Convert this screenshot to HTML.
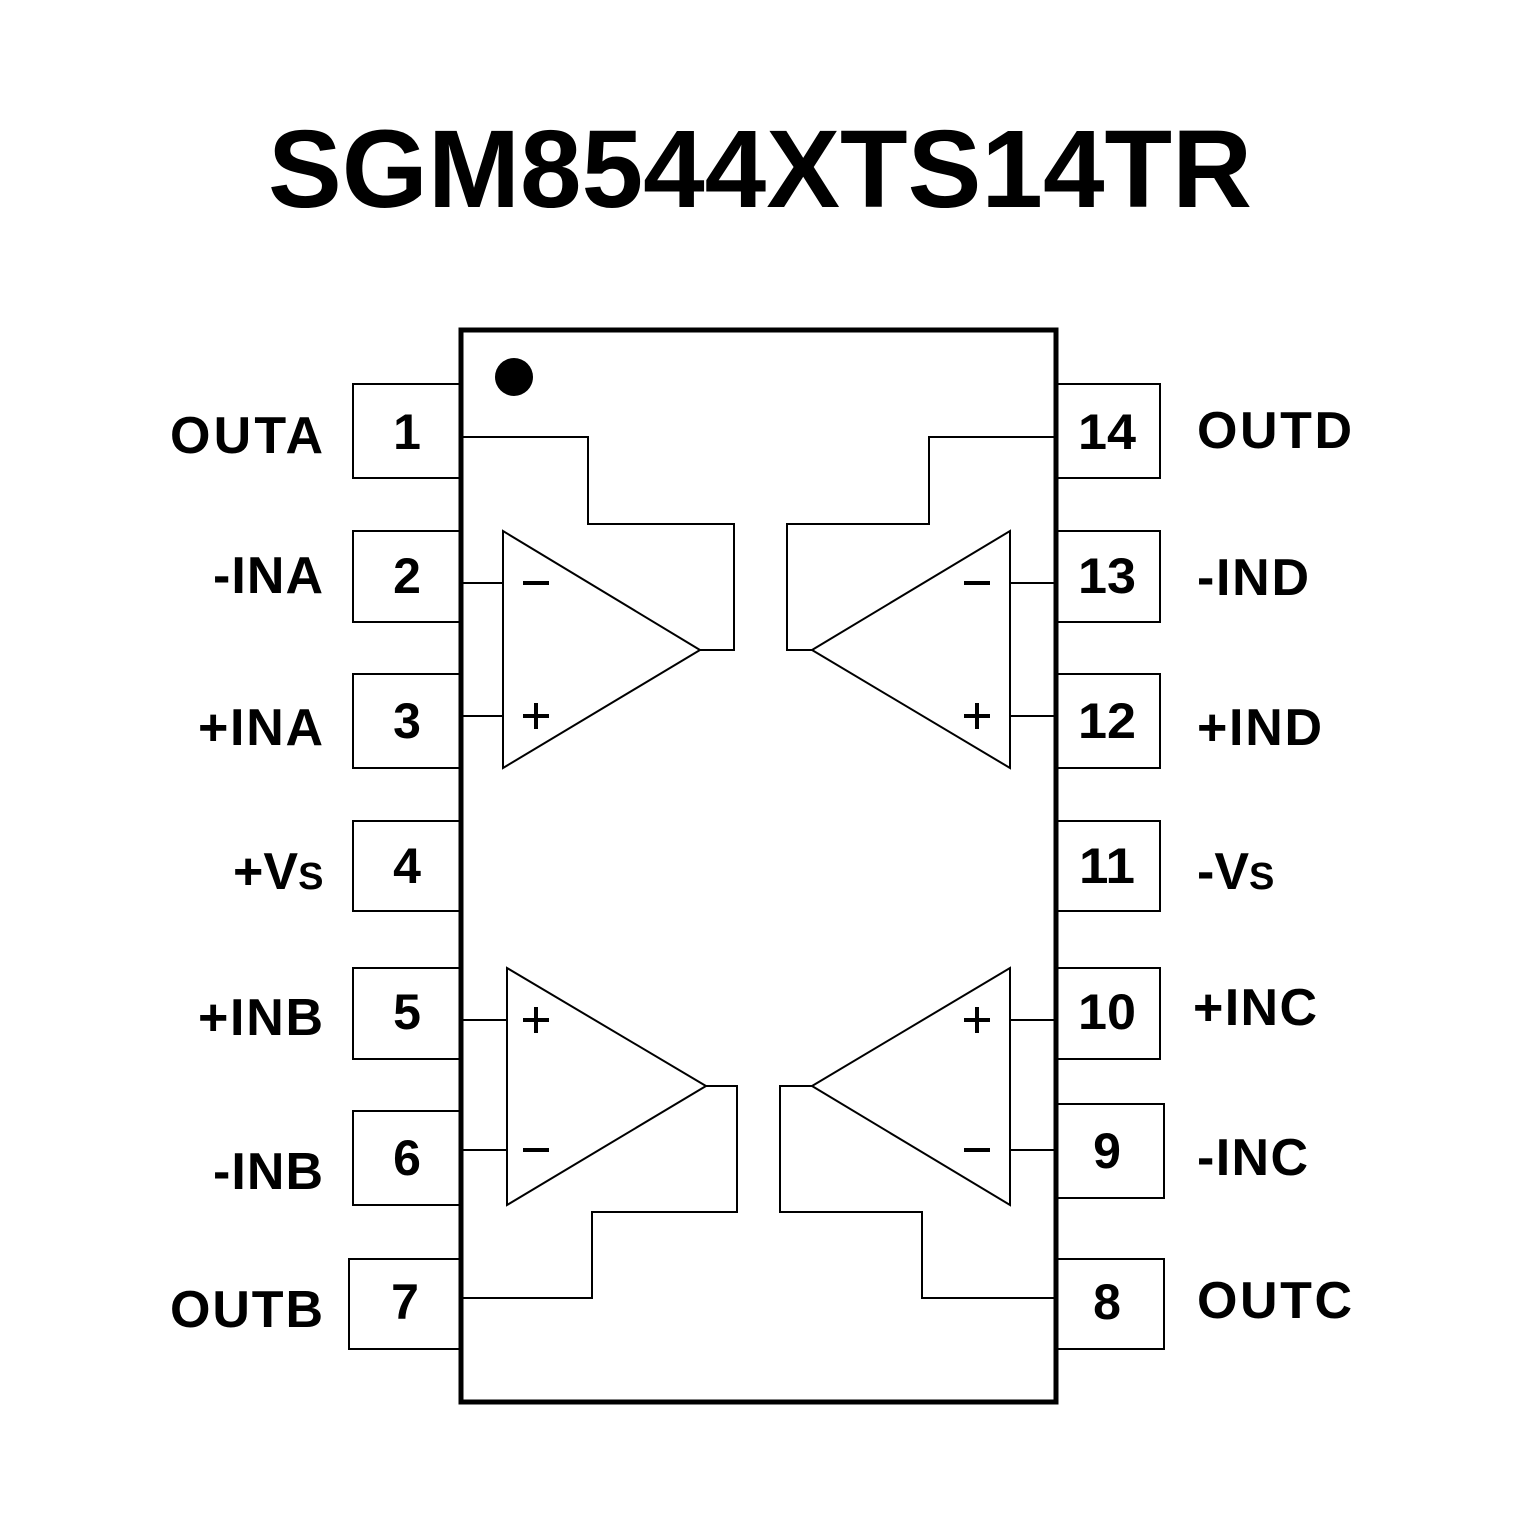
<!DOCTYPE html>
<html><head><meta charset="utf-8"><style>html,body{margin:0;padding:0;background:#fff}</style></head><body>
<svg width="1535" height="1535" viewBox="0 0 1535 1535" xmlns="http://www.w3.org/2000/svg" font-family="Liberation Sans, Arial, sans-serif" font-weight="bold">
<rect width="1535" height="1535" fill="#fff"/>
<text x="760" y="207" font-size="110" text-anchor="middle" textLength="984" lengthAdjust="spacingAndGlyphs">SGM8544XTS14TR</text>
<g fill="#fff" stroke="#000" stroke-width="2">
<rect x="353" y="384" width="108" height="94"/>
<rect x="353" y="531" width="108" height="91"/>
<rect x="353" y="674" width="108" height="94"/>
<rect x="353" y="821" width="108" height="90"/>
<rect x="353" y="968" width="108" height="91"/>
<rect x="353" y="1111" width="108" height="94"/>
<rect x="349" y="1259" width="112" height="90"/>
<rect x="1056" y="384" width="104" height="94"/>
<rect x="1056" y="531" width="104" height="91"/>
<rect x="1056" y="674" width="104" height="94"/>
<rect x="1056" y="821" width="104" height="90"/>
<rect x="1056" y="968" width="104" height="91"/>
<rect x="1056" y="1104" width="108" height="94"/>
<rect x="1056" y="1259" width="108" height="90"/>
</g>
<rect x="461" y="330" width="595" height="1072" fill="#fff" stroke="#000" stroke-width="5"/>
<circle cx="514" cy="377" r="19" fill="#000"/>
<g fill="none" stroke="#000" stroke-width="2">
<polygon points="503,531 503,768 700,650"/>
<polyline points="461,583 503,583"/><polyline points="461,716 503,716"/>
<polyline points="700,650 734,650 734,524 588,524 588,437 461,437"/>
<polygon points="1010,531 1010,768 812,650"/>
<polyline points="1010,583 1056,583"/><polyline points="1010,716 1056,716"/>
<polyline points="812,650 787,650 787,524 929,524 929,437 1056,437"/>
<polygon points="507,968 507,1205 706,1086"/>
<polyline points="461,1020 507,1020"/><polyline points="461,1150 507,1150"/>
<polyline points="706,1086 737,1086 737,1212 592,1212 592,1298 461,1298"/>
<polygon points="1010,968 1010,1205 812,1086"/>
<polyline points="1010,1020 1056,1020"/><polyline points="1010,1150 1056,1150"/>
<polyline points="812,1086 780,1086 780,1212 922,1212 922,1298 1056,1298"/>
</g>
<g stroke="#000" stroke-width="4">
<line x1="523" y1="583" x2="549" y2="583"/><line x1="523" y1="716" x2="549" y2="716"/><line x1="536" y1="703" x2="536" y2="729"/>
<line x1="964" y1="583" x2="990" y2="583"/><line x1="964" y1="716" x2="990" y2="716"/><line x1="977" y1="703" x2="977" y2="729"/>
<line x1="523" y1="1020" x2="549" y2="1020"/><line x1="536" y1="1007" x2="536" y2="1033"/><line x1="523" y1="1150" x2="549" y2="1150"/>
<line x1="964" y1="1020" x2="990" y2="1020"/><line x1="977" y1="1007" x2="977" y2="1033"/><line x1="964" y1="1150" x2="990" y2="1150"/>
</g>
<g font-size="50" text-anchor="middle">
<text x="407" y="449">1</text><text x="407" y="593">2</text><text x="407" y="738">3</text>
<text x="407" y="883">4</text><text x="407" y="1029">5</text><text x="407" y="1175">6</text>
<text x="405" y="1319">7</text>
<text x="1107" y="449" textLength="58" lengthAdjust="spacingAndGlyphs">14</text><text x="1107" y="593" textLength="58" lengthAdjust="spacingAndGlyphs">13</text><text x="1107" y="738" textLength="58" lengthAdjust="spacingAndGlyphs">12</text>
<text x="1107" y="883" textLength="56" lengthAdjust="spacingAndGlyphs">11</text><text x="1107" y="1029" textLength="58" lengthAdjust="spacingAndGlyphs">10</text><text x="1107" y="1168">9</text>
<text x="1107" y="1319">8</text>
</g>
<g font-size="52" lengthAdjust="spacingAndGlyphs">
<text x="170" y="453" textLength="153">OUTA</text><text x="213" y="593" textLength="110">-INA</text><text x="198" y="745" textLength="125">+INA</text>
<text x="233" y="889">+V<tspan font-size="38">S</tspan></text>
<text x="198" y="1035" textLength="125">+INB</text><text x="213" y="1189" textLength="110">-INB</text><text x="170" y="1327" textLength="153">OUTB</text>
<text x="1197" y="448" textLength="155">OUTD</text><text x="1197" y="595" textLength="112">-IND</text><text x="1197" y="745" textLength="125">+IND</text>
<text x="1197" y="889">-V<tspan font-size="38">S</tspan></text>
<text x="1193" y="1025" textLength="124">+INC</text><text x="1197" y="1175" textLength="111">-INC</text><text x="1197" y="1318" textLength="155">OUTC</text>
</g>
</svg>
</body></html>
